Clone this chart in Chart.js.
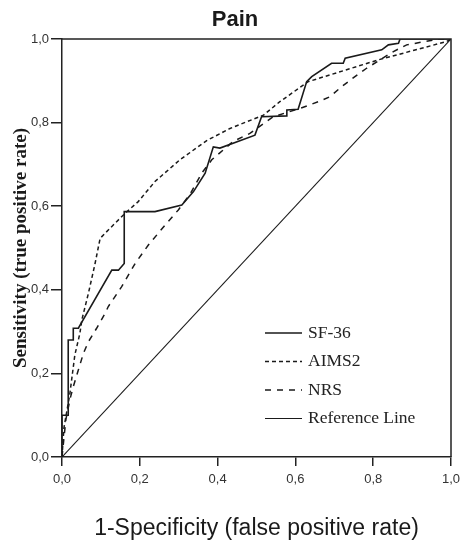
<!DOCTYPE html>
<html>
<head>
<meta charset="utf-8">
<script src="https://cdn.jsdelivr.net/npm/chart.js"></script>
<style>
  body { margin: 0; background: #fff; }
  #wrap { width: 468px; height: 544px; }
</style>
</head>
<body>
<div id="wrap"><canvas id="rocChart" width="468" height="544"></canvas></div>
<script>
// ROC curves, values (x = 1-specificity, y = sensitivity)
const sf36X = [0, 0, 0.016, 0.016, 0.029, 0.029, 0.042, 0.128, 0.145, 0.160, 0.160, 0.239, 0.308, 0.338, 0.368, 0.389, 0.406, 0.496, 0.513, 0.578, 0.578, 0.607, 0.629, 0.642, 0.693, 0.723, 0.728, 0.822, 0.839, 0.865, 0.869, 1];
const sf36Y = [0, 0.10, 0.10, 0.28, 0.28, 0.308, 0.308, 0.447, 0.447, 0.463, 0.587, 0.587, 0.603, 0.635, 0.679, 0.742, 0.739, 0.770, 0.814, 0.816, 0.830, 0.832, 0.898, 0.910, 0.942, 0.942, 0.954, 0.974, 0.986, 0.990, 1, 1];

const aimsX = [0, 0.005, 0.020, 0.033, 0.046, 0.051, 0.068, 0.085, 0.098, 0.119, 0.162, 0.196, 0.239, 0.303, 0.372, 0.432, 0.518, 0.560, 0.633, 0.813, 0.989, 1];
const aimsY = [0, 0.07, 0.15, 0.244, 0.296, 0.328, 0.392, 0.463, 0.523, 0.543, 0.583, 0.611, 0.659, 0.711, 0.757, 0.786, 0.818, 0.850, 0.898, 0.950, 0.994, 1];

const nrsX = [0, 0.010, 0.021, 0.029, 0.042, 0.055, 0.068, 0.089, 0.111, 0.119, 0.153, 0.188, 0.222, 0.265, 0.299, 0.330, 0.360, 0.385, 0.440, 0.483, 0.543, 0.612, 0.659, 0.689, 0.719, 0.753, 0.783, 0.852, 0.886, 0.970, 1];
const nrsY = [0, 0.09, 0.14, 0.168, 0.208, 0.248, 0.276, 0.308, 0.344, 0.360, 0.407, 0.463, 0.507, 0.555, 0.591, 0.630, 0.680, 0.711, 0.755, 0.774, 0.814, 0.834, 0.850, 0.862, 0.886, 0.910, 0.930, 0.970, 0.986, 1, 1];

const refX = [0, 1];
const refY = [0, 1];

const seriesNames = ["SF-36", "AIMS2", "NRS", "Reference Line"];
const tickValues = [0, 0.2, 0.4, 0.6, 0.8, 1.0];
const chartTitle = "Pain";

function pts(xs, ys) {
    return xs.map((x, i) => ({ x: x, y: ys[i] }));
}

function tickText(v) {
    return v.toFixed(1).replace(".", ",");
}

// title, frame on top/right, and the legend inside the plot
const extras = {
    id: "extras",
    afterDraw(chart) {
        const ctx = chart.ctx;
        const a = chart.chartArea;
        ctx.save();
        ctx.fillStyle = "#1a1a1a";
        ctx.font = "bold 22px 'Liberation Sans', Arial, sans-serif";
        ctx.textAlign = "center";
        ctx.textBaseline = "middle";
        ctx.fillText(chartTitle, 235, 20);

        ctx.strokeStyle = "#222";
        ctx.lineWidth = 1.5;
        ctx.beginPath();
        ctx.moveTo(a.left, a.top);
        ctx.lineTo(a.right, a.top);
        ctx.lineTo(a.right, a.bottom);
        ctx.stroke();

        let y = 333;
        ctx.textAlign = "left";
        chart.data.datasets.forEach(ds => {
            ctx.strokeStyle = ds.borderColor;
            ctx.lineWidth = ds.borderWidth;
            ctx.setLineDash(ds.borderDash || []);
            ctx.beginPath();
            ctx.moveTo(265, y);
            ctx.lineTo(302, y);
            ctx.stroke();
            ctx.setLineDash([]);
            ctx.fillStyle = "#222";
            ctx.font = "17.5px 'Liberation Serif', 'Times New Roman', serif";
            ctx.fillText(ds.label, 308, y);
            y += 28.5;
        });
        ctx.restore();
    }
};

new Chart("rocChart", {
    type: "scatter",
    data: {
        datasets: [{
            label: seriesNames[0],
            data: pts(sf36X, sf36Y),
            borderColor: "#1a1a1a",
            borderWidth: 1.6
        }, {
            label: seriesNames[1],
            data: pts(aimsX, aimsY),
            borderColor: "#1a1a1a",
            borderWidth: 1.5,
            borderDash: [4, 3]
        }, {
            label: seriesNames[2],
            data: pts(nrsX, nrsY),
            borderColor: "#1a1a1a",
            borderWidth: 1.5,
            borderDash: [6, 6]
        }, {
            label: seriesNames[3],
            data: pts(refX, refY),
            borderColor: "#1a1a1a",
            borderWidth: 1.1
        }].map(ds => Object.assign(ds, { showLine: true, pointRadius: 0, tension: 0, fill: false }))
    },
    options: {
        responsive: false,
        animation: false,
        layout: { padding: { left: 0, right: 17, top: 39, bottom: 0 } },
        plugins: {
            legend: { display: false },
            tooltip: { enabled: false },
            title: { display: false }
        },
        scales: {
            x: {
                type: "linear",
                min: 0,
                max: 1,
                afterBuildTicks: s => { s.ticks = tickValues.map(v => ({ value: v })); },
                afterFit: s => { s.height = 87; },
                ticks: {
                    callback: tickText,
                    color: "#333",
                    padding: 6,
                    maxRotation: 0,
                    font: { family: "'Liberation Sans', Arial, sans-serif", size: 13 }
                },
                grid: { drawOnChartArea: false, tickLength: 9, color: "#222", lineWidth: 1.5 },
                border: { display: true, color: "#222", width: 1.5 },
                title: {
                    display: true,
                    text: "1-Specificity (false positive rate)",
                    color: "#1a1a1a",
                    padding: { top: 0, bottom: 2 },
                    font: { family: "'Liberation Sans', Arial, sans-serif", size: 23 }
                }
            },
            y: {
                type: "linear",
                min: 0,
                max: 1,
                afterBuildTicks: s => { s.ticks = tickValues.map(v => ({ value: v })); },
                afterFit: s => { s.width = 62; },
                ticks: {
                    callback: tickText,
                    color: "#333",
                    padding: 2,
                    font: { family: "'Liberation Sans', Arial, sans-serif", size: 13 }
                },
                grid: { drawOnChartArea: false, tickLength: 11, color: "#222", lineWidth: 1.5 },
                border: { display: true, color: "#222", width: 1.5 },
                title: {
                    display: true,
                    text: "Sensitivity (true positive rate)",
                    color: "#1a1a1a",
                    padding: { top: 10, bottom: 0 },
                    font: { family: "'Liberation Serif', 'Times New Roman', serif", size: 19, weight: "bold" }
                }
            }
        }
    },
    plugins: [extras]
});
</script>
</body>
</html>
